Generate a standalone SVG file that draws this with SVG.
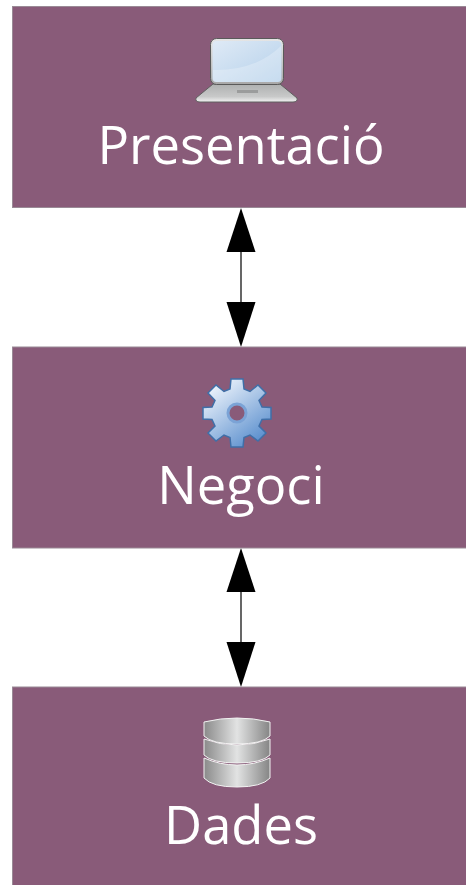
<svg xmlns="http://www.w3.org/2000/svg" width="466" height="885" viewBox="0 0 466 885">
<style>
.box{fill:#895b79;stroke:#9a8a96;stroke-width:1}
.lbl{font-family:"Open Sans",sans-serif;font-size:52.500px;fill:#fff;text-anchor:middle}
.conn{stroke:#000;stroke-width:1.2;fill:none}
.head{fill:#000}
.dbs{fill:url(#dbg);stroke:#f2f2f2;stroke-width:1}
</style>
<defs>
<linearGradient id="screen" x1="0" y1="0" x2="1" y2="1"><stop offset="0" stop-color="#dfeaf6"/><stop offset="1" stop-color="#b4d0ea"/></linearGradient>
<linearGradient id="bezel" x1="0" y1="0" x2="0" y2="1"><stop offset="0" stop-color="#e6e6e6"/><stop offset="1" stop-color="#a8a8a8"/></linearGradient>
<linearGradient id="base" x1="0" y1="0" x2="0" y2="1"><stop offset="0" stop-color="#aeb0b0"/><stop offset="0.7" stop-color="#c8c9c9"/><stop offset="1" stop-color="#f2f2f2"/></linearGradient>
<linearGradient id="gear" x1="0.2" y1="0.1" x2="0.8" y2="0.9"><stop offset="0" stop-color="#e8f0fa"/><stop offset="1" stop-color="#5f92cf"/></linearGradient>
<linearGradient id="dbg" x1="0" y1="0" x2="1" y2="0"><stop offset="0" stop-color="#8a8a8a"/><stop offset="0.5" stop-color="#e2e3e3"/><stop offset="1" stop-color="#858585"/></linearGradient>
</defs>
<g id="connectors">
<line class="conn" x1="241" y1="240" x2="241" y2="310"/>
<polygon class="head" points="241,208 255.500,252 226.500,252"/>
<polygon class="head" points="241,347 255.500,302 226.500,302"/>
<line class="conn" x1="241" y1="580" x2="241" y2="650"/>
<polygon class="head" points="241,548 255.500,592 226.500,592"/>
<polygon class="head" points="241,687 255.500,642 226.500,642"/>
</g>
<g id="presentacio">
<rect class="box" x="12.500" y="6.500" width="460" height="201"/>
<path d="M196,98 L213,84 H280 L297,98 Q298,102 293,102 H200 Q195,102 196,98Z" fill="url(#base)" stroke="#5f5f5f" stroke-width="1"/>
<rect x="237" y="90" width="21" height="3" fill="#9b9c9c"/>
<rect x="210.500" y="38.500" width="73" height="46" rx="6" fill="url(#bezel)" stroke="#5a5a5a" stroke-width="1"/>
<rect x="212.500" y="41" width="69" height="41" rx="4" fill="url(#screen)"/>
<path d="M213,70 Q255,71 281,46 L281,79 Q281,82 278,82 H216 Q213,82 213,79Z" fill="#fff" fill-opacity="0.25"/>
<text class="lbl" x="241" y="164">Presentació</text>
</g>
<g id="negoci">
<rect class="box" x="12.500" y="347" width="460" height="201"/>
<g transform="translate(237 413)">
<path fill="url(#gear)" stroke="#3f6fa8" stroke-width="1.500" d="M-6,-34 H6 L7,-24 L13,-21.500 L21,-28 L29,-20 L22,-12.500 L25,-6 L34,-5.500 V6 L25,6.500 L22,13 L29,20 L21,28 L13,22 L7,24.500 L6,34 H-6 L-7,24.500 L-13,22 L-21,28 L-29,20 L-22,13 L-25,6.500 L-34,6 V-5.500 L-25,-6 L-22,-12.500 L-29,-20 L-21,-28 L-13,-21.500 L-7,-24 Z"/>
<circle r="9" fill="#895b79" stroke="#7ba3d6" stroke-width="3"/>
</g>
<text class="lbl" x="241" y="504">Negoci</text>
</g>
<g id="dades">
<rect class="box" x="12.500" y="687" width="460" height="201"/>
<path class="dbs" d="M204,758 Q220,765 237,765 Q254,765 270,758 V778 Q262,787 237,787 Q212,787 204,778Z"/>
<path class="dbs" d="M204,739 Q220,745 237,745 Q254,745 270,739 V755 Q262,763 237,763 Q212,763 204,755Z"/>
<path class="dbs" d="M204,722 Q237,714 270,722 V736 Q262,744 237,744 Q212,744 204,736Z"/>
<text class="lbl" x="241" y="844">Dades</text>
</g>
</svg>
